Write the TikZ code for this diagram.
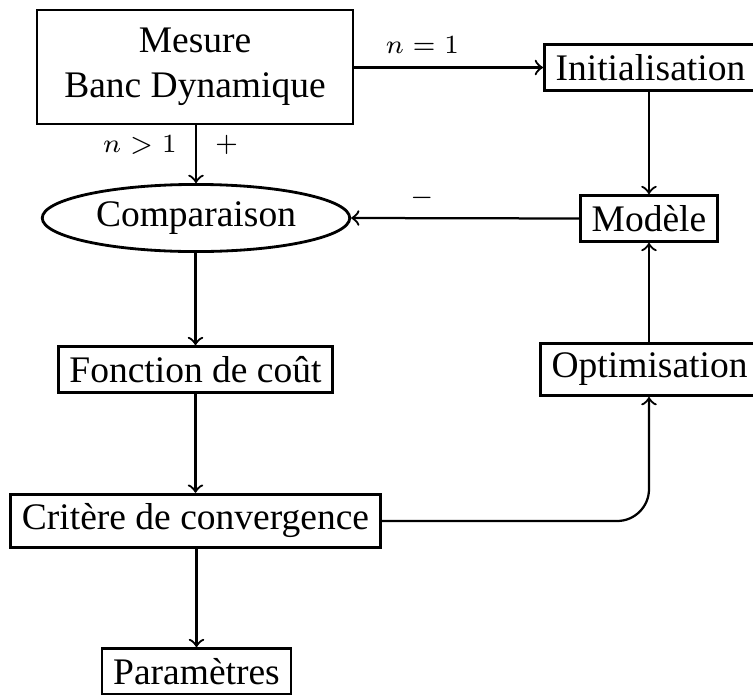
\documentclass[tikz,border=0pt]{standalone}
\usepackage{fontspec}
\setmainfont{Liberation Serif}
\usepackage{amsmath}
\usepackage{xcolor}
\usepackage{tikz}
\usetikzlibrary{positioning, arrows, shapes.geometric}

\tikzset{
  bloc/.style={draw, line width=0.75pt, inner xsep=3pt, inner ysep=2.6pt},
  lien/.style={->, line width=0.6pt},
  etiq/.style={font=\scriptsize, inner sep=1.5pt}
}

\begin{document}
\begin{tikzpicture}[x=0.26667pt,y=0.26667pt,yscale=-1,xscale=1]
%set diagram left start at 0, and has height of 695
\useasboundingbox (0,0) rectangle (753,695);

%Shape: Rectangle
\node[bloc, align=center, minimum width=84.3pt, minimum height=30.4pt] (mesure) at (195,67) {Mesure\\Banc Dynamique};
%Shape: Rectangle
\node[bloc, anchor=west] (init) at (543,67.5) {Initialisation};
%Shape: Rectangle
\node[bloc] (modele) at (649,218.5) {Modèle};
%Shape: Ellipse
\node[draw, ellipse, line width=0.75pt, inner sep=0pt, minimum width=82pt, minimum height=17.9pt] (comp) at (196,218) {Comparaison};
%Shape: Rectangle
\node[bloc] (cout) at (195.5,369.5) {Fonction de coût};
%Shape: Rectangle
\node[bloc, anchor=west] (optim) at (539,369.5) {Optimisation};
%Shape: Rectangle
\node[bloc] (critere) at (195.5,521) {Critère de convergence};
%Shape: Rectangle
\node[bloc] (param) at (196.5,671.5) {Paramètres};

%Straight Lines
\draw[lien] (mesure.east |- init.west) -- (init.west)
  node[etiq, above=2pt, pos=0.36] (nun) {$n=1$};
\draw[lien] (mesure.south -| comp.north) -- (comp.north)
  node[etiq, left=3.3pt, pos=0.34] (nsup) {$n>1$}
  node[etiq, right=3.3pt, pos=0.34] (plus) {$+$};
\draw[lien] (modele.north |- init.south) -- (modele.north);
\draw[lien] (modele.west) -- (comp.east)
  node[etiq, above=1pt, pos=0.69] (moins) {$-$};
\draw[lien] (comp.south -| cout.north) -- (cout.north);
\draw[lien] (cout.south) -- (critere.north);
\draw[lien] (critere.south -| param.north) -- (param.north);
\draw[lien] (optim.north -| modele.south) -- (modele.south);
%Curve Lines
\draw[lien, rounded corners=8.5pt] (critere.east) -| (optim.south -| modele.south);

\end{tikzpicture}
\end{document}
